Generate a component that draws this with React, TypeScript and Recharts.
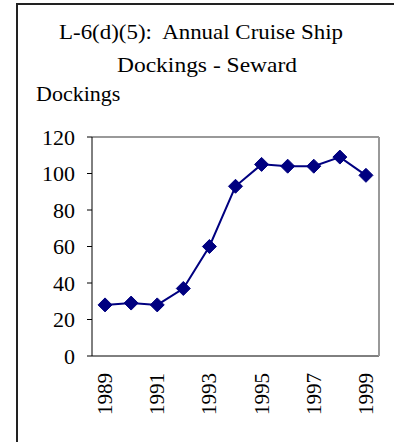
import { LineChart, Line, XAxis, YAxis, CartesianGrid, ReferenceLine } from 'recharts';

// Seward annual cruise ship dockings
const YEARS = [1989, 1990, 1991, 1992, 1993, 1994, 1995, 1996, 1997, 1998, 1999];
const DOCKINGS = [28, 29, 28, 37, 60, 93, 105, 104, 104, 109, 99];
const Y_TICKS = [0, 20, 40, 60, 80, 100, 120];
const X_LABELS = [1989, 1991, 1993, 1995, 1997, 1999];

const TITLE_1 = 'L-6(d)(5):  Annual Cruise Ship';
const TITLE_2 = 'Dockings - Seward';
const Y_TITLE = 'Dockings';

const FONT = 'Liberation Serif';
const NAVY = '#000080';

const data = YEARS.map((year, i) => ({ year, value: DOCKINGS[i] }));
// tick marks sit between the categories
const bounds = [...YEARS.map(y => y - 0.5), YEARS[YEARS.length - 1] + 0.5];
const domain = [bounds[0], bounds[bounds.length - 1]];

const Diamond = (props: any) => {
  const { cx, cy, index } = props;
  if (cx == null || cy == null) return <g key={index} />;
  const r = 7;
  return (
    <path
      key={index}
      d={`M${cx},${cy - r}L${cx + r},${cy}L${cx},${cy + r}L${cx - r},${cy}Z`}
      fill={NAVY}
      stroke={NAVY}
    />
  );
};

const YearTick = ({ x, y, payload }: any) => (
  <text
    x={x}
    y={y}
    transform={`rotate(-90 ${x} ${y})`}
    textAnchor="end"
    dominantBaseline="central"
    fontFamily={FONT}
    fontSize={21}
    fill="#000"
  >
    {payload.value}
  </text>
);

export default function App() {
  return (
    <div style={{ position: 'fixed', left: 0, top: 0, width: 396, height: 442, overflow: 'hidden', background: '#fff' }}>
      {/* outer frame */}
      <div
        style={{
          position: 'absolute', left: 16, top: 3, width: 378, height: 460,
          borderLeft: '2px solid #222', borderTop: '2px solid #222', boxSizing: 'border-box',
        }}
      />
      <svg width={396} height={442} style={{ position: 'absolute', left: 0, top: 0 }}>
        <text x={201} y={39} textAnchor="middle" fontFamily={FONT} fontSize={22} style={{ whiteSpace: 'pre' }}
          textLength={284} lengthAdjust="spacingAndGlyphs">
          {TITLE_1}
        </text>
        <text x={207} y={72} textAnchor="middle" fontFamily={FONT} fontSize={22}
          textLength={180} lengthAdjust="spacingAndGlyphs">
          {TITLE_2}
        </text>
        <text x={36} y={101} fontFamily={FONT} fontSize={22}>{Y_TITLE}</text>
      </svg>
      <div style={{ position: 'absolute', left: 0, top: 0 }}>
        <LineChart width={396} height={442} data={data} margin={{ top: 137, right: 17, bottom: 26, left: 32 }}>
          <CartesianGrid vertical={false} stroke="#000" strokeWidth={1} />
          <XAxis
            xAxisId="marks"
            dataKey="year"
            type="number"
            domain={domain}
            ticks={bounds}
            tick={false}
            tickSize={5}
            height={0}
            axisLine={{ stroke: '#000' }}
            tickLine={{ stroke: '#000' }}
          />
          <XAxis
            xAxisId="labels"
            dataKey="year"
            type="number"
            domain={domain}
            ticks={X_LABELS}
            tick={<YearTick />}
            tickSize={0}
            tickMargin={17}
            height={60}
            axisLine={false}
            tickLine={false}
          />
          <YAxis
            yAxisId="left"
            domain={[0, 120]}
            ticks={Y_TICKS}
            width={60}
            tickSize={5}
            tickMargin={12}
            axisLine={{ stroke: '#000' }}
            tickLine={{ stroke: '#000' }}
            tick={{ fill: '#000', fontSize: 22, fontFamily: FONT }}
          />
          {/* grey plot-area border, top and right */}
          <ReferenceLine yAxisId="left" xAxisId="marks" y={120} stroke="#999" strokeWidth={2} />
          <ReferenceLine yAxisId="left" xAxisId="marks" x={domain[1]} stroke="#999" strokeWidth={2} />
          <Line
            xAxisId="marks"
            yAxisId="left"
            dataKey="value"
            type="linear"
            stroke={NAVY}
            strokeWidth={2}
            dot={Diamond}
            activeDot={false}
            isAnimationActive={false}
          />
        </LineChart>
      </div>
    </div>
  );
}
